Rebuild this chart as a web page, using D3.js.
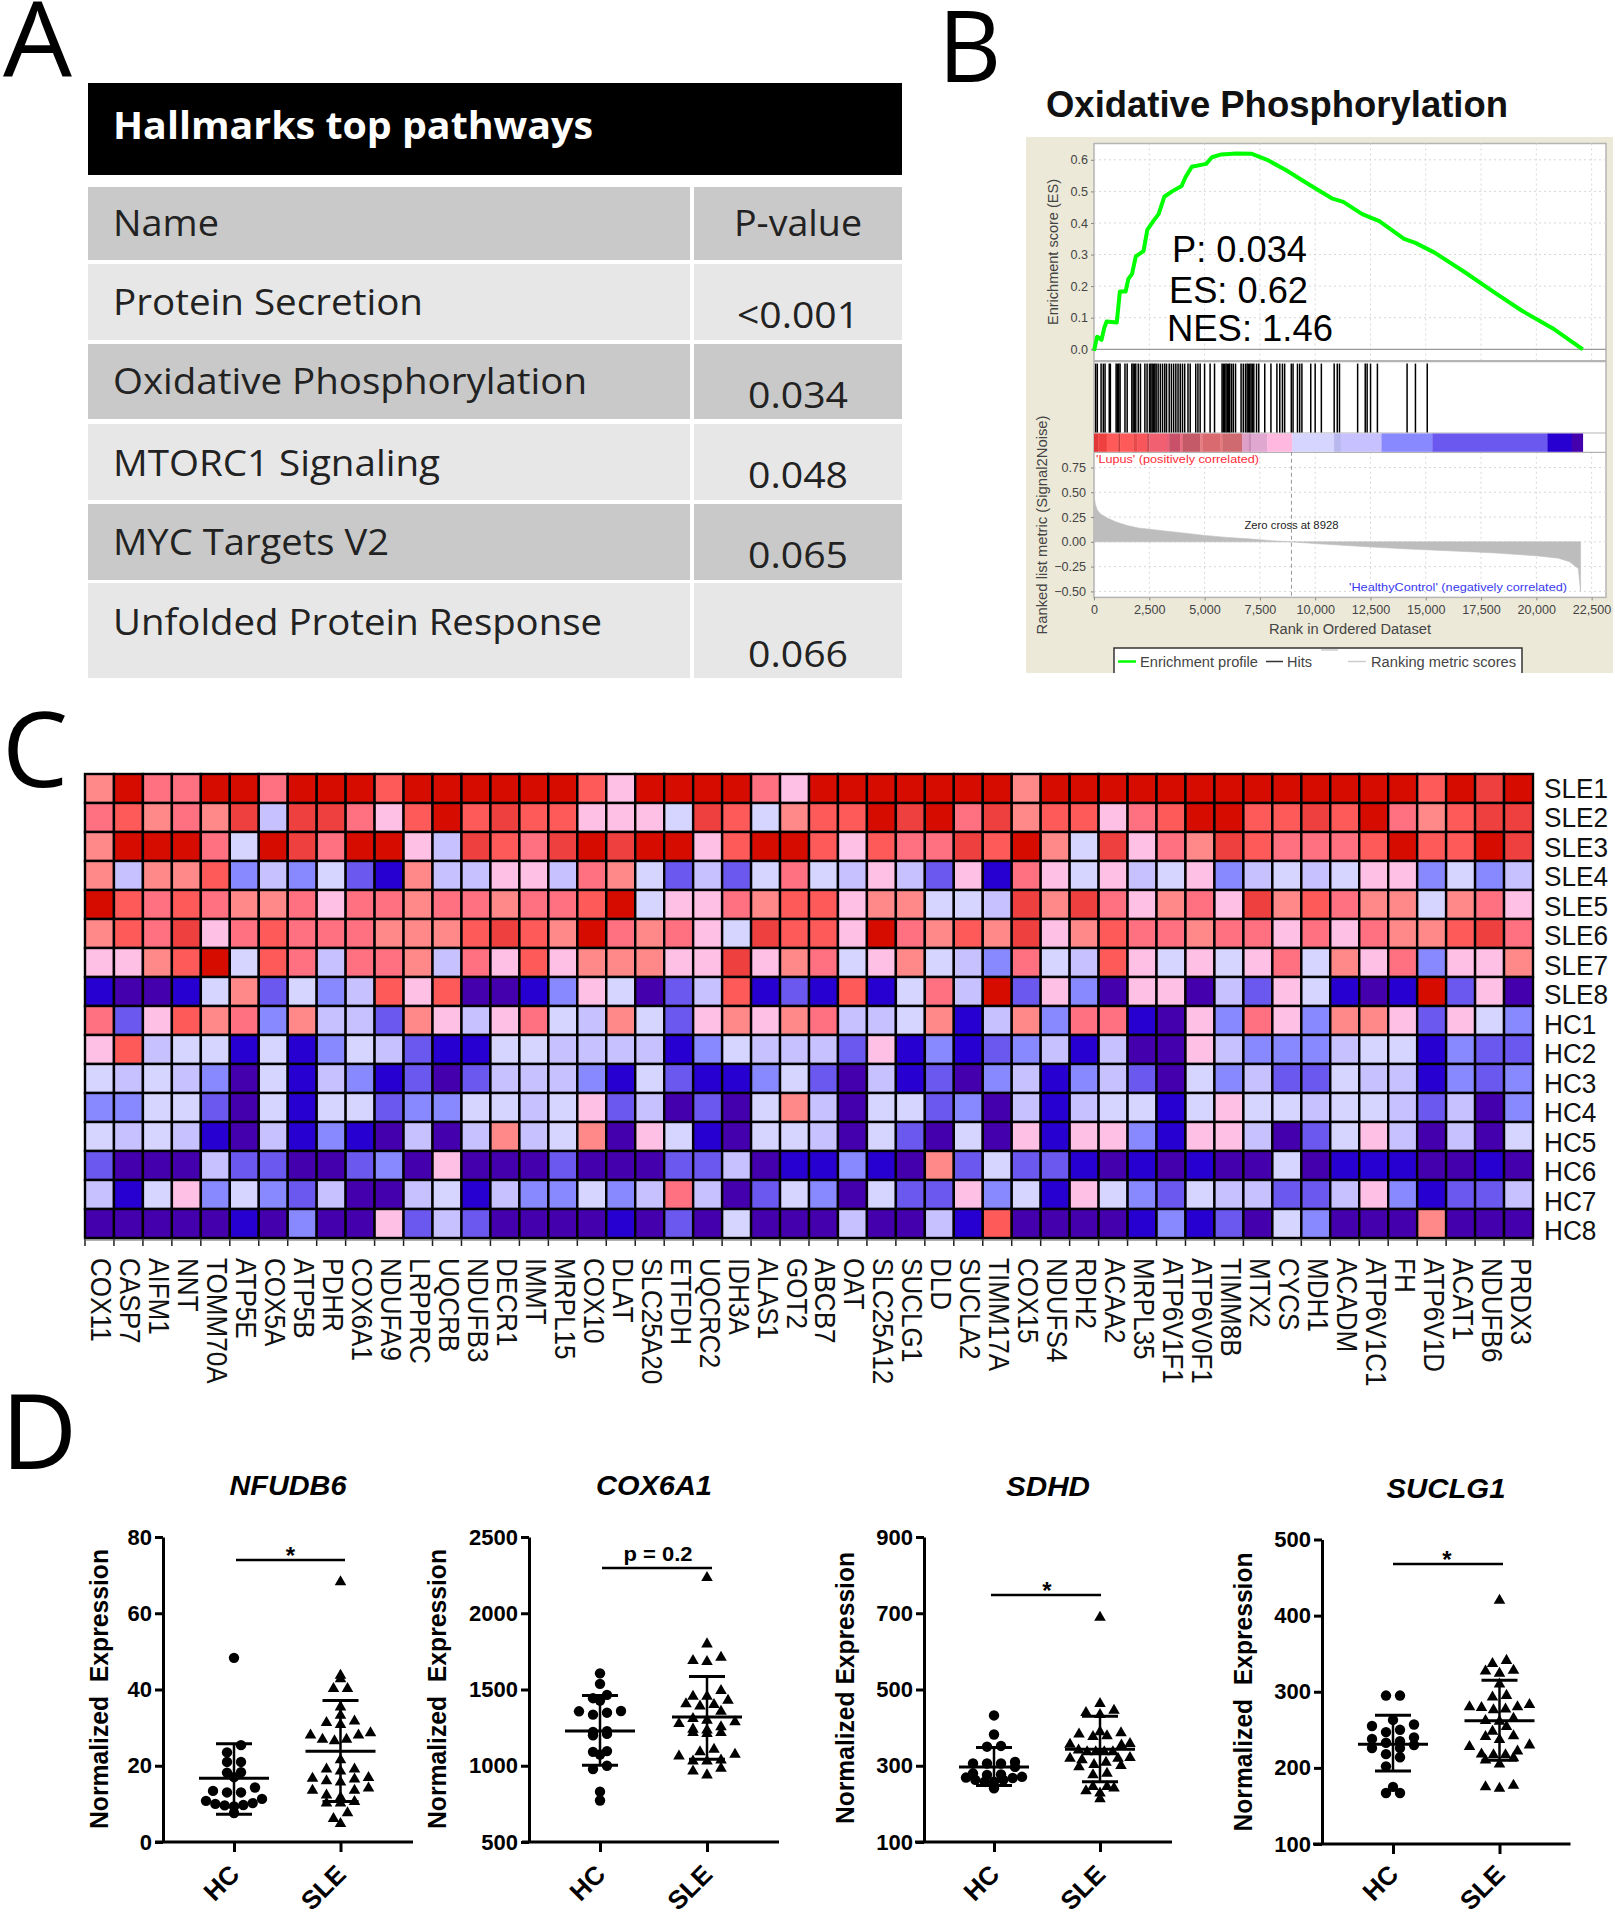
<!DOCTYPE html>
<html>
<head>
<meta charset="utf-8">
<style>
  html, body { margin: 0; padding: 0; background: #fff; }
  svg { display: block; }
  text { font-family: "Liberation Sans", Arial, sans-serif; fill: #000; }
</style>
<script src="https://cdn.jsdelivr.net/npm/d3@7"></script>
</head>
<body>
<svg id="fig" width="1615" height="1920"></svg>
<script>
// panel A
var tableTitle = 'Hallmarks top pathways';
var pathwayNames = ['Protein Secretion', 'Oxidative Phosphorylation', 'MTORC1 Signaling', 'MYC Targets V2', 'Unfolded Protein Response'];
var pathwayPvals = ['<0.001', '0.034', '0.048', '0.065', '0.066'];

// panel B
var esRank = [0, 140, 340, 460, 570, 1030, 1170, 1430, 1550, 1720, 1890, 2240, 2410, 2670, 2920, 3180, 3530, 3960, 4130, 4420, 5070, 5330, 5760, 6450, 7140, 7830, 8690, 9720, 10750, 11270, 12130, 12900, 14020, 14530, 15400, 16770, 18150, 19350, 20730, 22100];
var esScore = [-0.005, 0.04, 0.03, 0.067, 0.088, 0.085, 0.183, 0.183, 0.222, 0.239, 0.294, 0.311, 0.378, 0.405, 0.428, 0.483, 0.5, 0.517, 0.544, 0.578, 0.587, 0.608, 0.617, 0.62, 0.619, 0.6, 0.567, 0.522, 0.478, 0.467, 0.428, 0.406, 0.35, 0.337, 0.306, 0.244, 0.178, 0.122, 0.067, 0];
var hitRanks = [75, 150, 320, 420, 500, 690, 740, 1000, 1060, 1120, 1180, 1400, 1500, 1710, 1770, 1830, 1890, 2000, 2100, 2300, 2400, 2510, 2570, 2630, 2690, 2750, 2810, 2900, 3000, 3100, 3200, 3280, 3400, 3500, 3600, 3700, 3800, 3900, 4000, 4100, 4250, 4350, 4600, 4700, 4800, 5000, 5250, 5450, 5790, 5850, 5910, 5970, 6030, 6090, 6138, 6220, 6300, 6400, 6650, 6750, 6850, 6924, 6980, 7040, 7100, 7160, 7226, 7350, 7450, 7720, 8000, 8270, 8400, 8520, 8620, 8920, 9000, 9200, 9300, 9400, 9800, 10000, 10280, 10860, 11000, 11100, 11920, 12264, 12350, 12504, 12814, 14156, 14534, 15067];
var barStarts = [0, 196, 574, 1104, 1180, 1784, 1950, 2400, 2500, 3296, 3400, 3900, 4000, 4807, 4900, 5700, 5800, 6697, 7000, 7100, 7831, 8966, 10855, 11157, 13000, 15300, 20500, 21600, 22100];
var barColors = ['#e23636', '#ef4040', '#ff5a5a', '#c93a3a', '#ff5a5a', '#e84a4a', '#f8565a', '#c94a50', '#f06070', '#ea6078', '#c85068', '#ec6a7c', '#c45a68', '#e97a7e', '#d86a70', '#e47a7c', '#cf6a70', '#dfa0c8', '#c890b8', '#e0a8d0', '#ffb8e0', '#d5d5ff', '#b8b8ee', '#c7c1ff', '#8888ff', '#6b58ef', '#2700d1', '#4500ad'];
var metricRank = [0, 60, 150, 300, 600, 1000, 1500, 2000, 3000, 4000, 5000, 6000, 7000, 8000, 8928, 10000, 12000, 14000, 16000, 18000, 20000, 21000, 21500, 21900, 22000, 22001];
var metricValue = [0.47, 0.38, 0.32, 0.28, 0.24, 0.2, 0.165, 0.14, 0.115, 0.09, 0.065, 0.045, 0.03, 0.012, 0, -0.018, -0.045, -0.07, -0.09, -0.11, -0.14, -0.165, -0.2, -0.27, -0.5, 0];
var rankTicks = [0, 2500, 5000, 7500, 10000, 12500, 15000, 17500, 20000, 22500];
var esTicks = [0, 0.1, 0.2, 0.3, 0.4, 0.5, 0.6];
var metricTicks = [-0.5, -0.25, 0, 0.25, 0.5, 0.75];
var gseaStats = ['P: 0.034', 'ES: 0.62', 'NES: 1.46'];

// panel C, each letter is one colour level of heatLevels
var heatLevels = 'PBMKLWISROED'.split('');
var heatColors = ['#4500ad', '#2700d1', '#6b58ef', '#8888ff', '#c7c1ff', '#d5d5ff', '#ffc0e5', '#ff8989', '#ff7080', '#ff5a5a', '#ef4040', '#d60c00'];
var heatGenes = ['COX11', 'CASP7', 'AIFM1', 'NNT', 'TOMM70A', 'ATP5E', 'COX5A', 'ATP5B', 'PDHR', 'COX6A1', 'NDUFA9', 'LRPPRC', 'UQCRB', 'NDUFB3', 'DECR1', 'IMMT', 'MRPL15', 'COX10', 'DLAT', 'SLC25A20', 'ETFDH', 'UQCRC2', 'IDH3A', 'ALAS1', 'GOT2', 'ABCB7', 'OAT', 'SLC25A12', 'SUCLG1', 'DLD', 'SUCLA2', 'TIMM17A', 'COX15', 'NDUFS4', 'RDH2', 'ACAA2', 'MRPL35', 'ATP6V1F1', 'ATP6V0F1', 'TIMM8B', 'MTX2', 'CYCS', 'MDH1', 'ACADM', 'ATP6V1C1', 'FH', 'ATP6V1D', 'ACAT1', 'NDUFB6', 'PRDX3'];
var heatSamples = ['SLE1', 'SLE2', 'SLE3', 'SLE4', 'SLE5', 'SLE6', 'SLE7', 'SLE8', 'HC1', 'HC2', 'HC3', 'HC4', 'HC5', 'HC6', 'HC7', 'HC8'];
var heatRows = [
  'SDRRDDRDDDODDDDDDOIDDDDRID' + 'DDDDDDSDDDDDDDDDDDDDODED',
  'ROSRSELEERIODOEOOIIIWEOWSO' + 'ODEDRESOOIRODDOOEODRSOEE',
  'SDDDRWDERDDILEOREDEDDIODDO' + 'IORREODSWEIRSEORRRODOODE',
  'SLSSOKLKWMBSLLIILRSWMLMWRW' + 'LILMIBRIWILWIKLWLWIIKWKL',
  'DORORSSRIRRSRRSRRODWIIRSOO' + 'ISSWWLESERISRIESORSSWSRI',
  'SOREIRORRRSSSOEOSDRSRIWEOO' + 'IDRSOSEISORRSRRIRIRSSOER',
  'IISODWORLRRSLRIOISSSIIEISR' + 'WISWLKRWLOIWIWIRWSIRKIIS',
  'BPPBWSMWKLOIOPPBKIWPMLOBMB' + 'OBWRLDMIKPIIPLMIWBPBDMIP',
  'RMIOSRKSLLMSILIRWLSWMISISR' + 'LLWSBLSKRRBPIKRIKSSIMIWK',
  'IOLWWBWBKWLMBBWWLLLLBKWLLL' + 'MIBKBMKLBLPPILKKKLWWBKMM',
  'WLWLKPWBLKBMPMLLLKBWMBBKWM' + 'PLBMPKLBKLMPWKLMMWLLBKMK',
  'KKWWMPWBWWMKKWWLWIMLPMPWSL' + 'PWWMKPLBLWWBWIWWLWWLMLPK',
  'WLWLBPLBKBPLPLSLWSPIWBPWWL' + 'PWMPWPIBIIKBIILPMWILPLPW',
  'MPPPLMMPPMKPIPPPMPPPMMLPBB' + 'KBPSMWMMBPBPBPPWPBBBPPBP',
  'LBWIKWKMLPPLWBLKKWKLRLPMWK' + 'PWMMIKWBIWKMWLLMMLIKBMML',
  'PPPPPBPKPPIMLMPPPPBPMPWPPP' + 'LPPLBOPPPPBKBMPWKPPPSPPP'
];

// panel D, expression per subject and the mean / SD marks
var groups = ['HC', 'SLE'];
var nfudb6Hc = [48.3, 25.4, 23.5, 21, 21, 18.3, 18.2, 17, 14.3, 13.4, 13, 13, 11.3, 10.8, 10.2, 10, 9.7, 9.6, 9.3, 7.6];
var nfudb6Sle = [68.2, 43.7, 42.8, 40.2, 40.2, 35.4, 33.2, 31.7, 31.3, 30.8, 28.6, 28, 28, 26.9, 26.9, 26.5, 21.5, 19.1, 19.1, 18.6, 16.9, 16.7, 16.5, 16, 15.7, 14.1, 13.5, 13.5, 12.3, 11.7, 10.6, 10.2, 10.2, 7.6, 6.1, 4.8];
var nfudb6Stats = [[16.7, 25.8, 7.3], [23.8, 37.1, 10.6]];
var cox6a1Hc = [1606, 1537, 1465, 1443, 1428, 1359, 1357, 1348, 1335, 1226, 1222, 1209, 1200, 1096, 1091, 1074, 1000, 978, 830, 772];
var cox6a1Sle = [2233, 1798, 1711, 1689, 1683, 1493, 1454, 1454, 1428, 1406, 1400, 1391, 1357, 1309, 1298, 1287, 1276, 1254, 1239, 1233, 1217, 1217, 1211, 1107, 1091, 1074, 1063, 1037, 1030, 1030, 983, 965, 939];
var cox6a1Stats = [[1228, 1461, 1004], [1320, 1585, 1043]];
var sdhdHc = [432, 382, 352, 350, 310, 306, 306, 306, 297, 280, 277, 276, 271, 269, 268, 263, 263, 258, 258, 241];
var sdhdSle = [689, 463, 445, 439, 434, 389, 386, 383, 378, 376, 358, 356, 354, 341, 336, 336, 336, 336, 321, 319, 319, 315, 309, 303, 300, 297, 280, 276, 245, 245, 241, 234, 228, 213];
var sdhdStats = [[297, 348, 248], [343, 430, 258]];
var suclg1Hc = [295, 295, 263, 257, 255, 250, 247, 240, 238, 235, 233, 230, 226, 226, 218, 214, 202, 175, 167, 167];
var suclg1Sle = [420, 341, 337, 328, 327, 324, 310, 295, 293, 283, 280, 280, 279, 277, 276, 265, 262, 261, 254, 248, 242, 241, 237, 230, 228, 222, 218, 217, 217, 213, 210, 205, 177, 175, 173];
var suclg1Stats = [[231, 269, 196], [262, 315, 210]];

var svg = d3.select('#fig');

// fit a text to the width measured on the picture
function label(g, str, x, y, o){
  o = o || {};
  var t = g.append('text').attr('x', x).attr('y', y).text(str)
    .attr('font-size', o.size || 14)
    .attr('text-anchor', o.anchor || 'start');
  if (o.family) t.style('font-family', o.family);
  if (o.weight) t.attr('font-weight', o.weight);
  if (o.italic) t.attr('font-style', 'italic');
  if (o.fill) t.style('fill', o.fill);
  if (o.squeeze) o.len = t.node().getComputedTextLength() * o.squeeze;
  if (o.len) t.attr('textLength', o.len).attr('lengthAdjust', 'spacingAndGlyphs');
  if (o.rotate) t.attr('transform', 'rotate(' + o.rotate + ' ' + x + ' ' + y + ')');
  return t;
}

var panelFont = '"Open Sans", sans-serif';
label(svg, 'A', 3, 77, {size: 105, family: panelFont, len: 69});
label(svg, 'B', 938, 82, {size: 98, family: panelFont});
label(svg, 'C', 2, 787, {size: 105, family: panelFont});
label(svg, 'D', 1, 1469, {size: 105, family: panelFont});

drawTable();
drawGsea();
drawHeatmap();
drawScatter(svg.append('g'), {title: 'NFUDB6', titleX: 288, titleLen: 117, titleY: 1495, hc: nfudb6Hc, sle: nfudb6Sle, stats: nfudb6Stats,
  domain: [0, 80], ticks: [0, 20, 40, 60, 80], yTop: 1537, yBot: 1842, axisX: 163, x0: 155, x1: 413, hcX: 234, sleX: 340.5,
  yLabel: 'Normalized\u00a0\u00a0Expression', labelX: 98, labelY: 1689, labelLen: 280, sigLeft: 236, sigRight: 345, sigY: 1560, sig: '*', sigX: 290.5});
drawScatter(svg.append('g'), {title: 'COX6A1', titleX: 654, titleLen: 116, titleY: 1495, hc: cox6a1Hc, sle: cox6a1Sle, stats: cox6a1Stats,
  domain: [500, 2500], ticks: [500, 1000, 1500, 2000, 2500], yTop: 1537, yBot: 1842, axisX: 529, x0: 522, x1: 779, hcX: 600, sleX: 707,
  yLabel: 'Normalized\u00a0\u00a0Expression', labelX: 436, labelY: 1689, labelLen: 280, sigLeft: 602, sigRight: 712, sigY: 1568, sig: 'p = 0.2', sigX: 658});
drawScatter(svg.append('g'), {title: 'SDHD', titleX: 1048, titleLen: 84, titleY: 1496, hc: sdhdHc, sle: sdhdSle, stats: sdhdStats,
  domain: [100, 900], ticks: [100, 300, 500, 700, 900], yTop: 1537, yBot: 1842, axisX: 924, x0: 915, x1: 1172, hcX: 994, sleX: 1100,
  yLabel: 'Normalized Expression', labelX: 844, labelY: 1688, labelLen: 272, sigLeft: 991, sigRight: 1101, sigY: 1595, sig: '*', sigX: 1047});
drawScatter(svg.append('g'), {title: 'SUCLG1', titleX: 1446, titleLen: 119, titleY: 1498, hc: suclg1Hc, sle: suclg1Sle, stats: suclg1Stats,
  domain: [100, 500], ticks: [100, 200, 300, 400, 500], yTop: 1539.5, yBot: 1844, axisX: 1322, x0: 1313, x1: 1570.5, hcX: 1393, sleX: 1499.5,
  yLabel: 'Normalized\u00a0\u00a0Expression', labelX: 1242, labelY: 1692, labelLen: 279, sigLeft: 1393, sigRight: 1503, sigY: 1564, sig: '*', sigX: 1447});

function drawTable(){
  var g = svg.append('g');
  var bodyFont = '"Open Sans", sans-serif';
  var left = 88, split = 690, splitEnd = 694, right = 902;
  var rowTops = [264, 344, 424, 504, 583];
  var rowBots = [340, 419, 500, 580, 678];
  var nameBase = [315, 394, 476, 555, 635];
  var valBase = [328, 408, 488, 568, 667];
  var nameLen = [310, 474, 327, 276, 489];
  var valLen = [122, 100, 100, 100, 100];

  g.append('rect').attr('x', left).attr('y', 83).attr('width', right - left).attr('height', 92).attr('fill', '#000');
  label(g, tableTitle, 113, 139, {size: 38, weight: 'bold', family: bodyFont, fill: '#fff', len: 480});

  g.append('rect').attr('x', left).attr('y', 187).attr('width', split - left).attr('height', 73).attr('fill', '#c9c9c9');
  g.append('rect').attr('x', splitEnd).attr('y', 187).attr('width', right - splitEnd).attr('height', 73).attr('fill', '#c9c9c9');
  label(g, 'Name', 113, 236, {size: 36, family: bodyFont, fill: '#222', len: 106});
  label(g, 'P-value', 798, 236, {size: 36, family: bodyFont, fill: '#222', anchor: 'middle', len: 128});

  pathwayNames.forEach(function(name, i){
    var fill = i % 2 ? '#c9c9c9' : '#e7e7e7';
    g.append('rect').attr('x', left).attr('y', rowTops[i]).attr('width', split - left).attr('height', rowBots[i] - rowTops[i]).attr('fill', fill);
    g.append('rect').attr('x', splitEnd).attr('y', rowTops[i]).attr('width', right - splitEnd).attr('height', rowBots[i] - rowTops[i]).attr('fill', fill);
    label(g, name, 113, nameBase[i], {size: 36, family: bodyFont, fill: '#222', len: nameLen[i]});
    label(g, pathwayPvals[i], 798, valBase[i], {size: 36, family: bodyFont, fill: '#222', anchor: 'middle', len: valLen[i]});
  });
}

function drawGsea(){
  var g = svg.append('g');
  var grey = '#444', gridCol = '#d8d8d8';
  var boxL = 1094, boxR = 1606, boxT = 143.5, esBot = 360.5, hitT = 362.6, barT = 433.5, barB = 451.8, boxB = 597.4;

  label(g, 'Oxidative Phosphorylation', 1046, 117, {size: 37, weight: 'bold', len: 462, fill: '#111'});
  g.append('rect').attr('x', 1026).attr('y', 137).attr('width', 587).attr('height', 536).attr('fill', '#ece9d8');
  g.append('rect').attr('x', boxL).attr('y', boxT).attr('width', boxR - boxL).attr('height', boxB - boxT).attr('fill', '#fff').attr('stroke', '#b4b4b4').attr('stroke-width', 1.5);

  var x = d3.scaleLinear().domain([0, 23150]).range([boxL, boxR]);
  var yEs = d3.scaleLinear().domain([0, 0.6]).range([349.3, 159.8]);
  var yMetric = d3.scaleLinear().domain([-0.5, 0.75]).range([591.4, 467.5]);

  // dashed grid
  var grid = g.append('g').attr('stroke', gridCol).attr('stroke-dasharray', '2 3');
  rankTicks.slice(1).forEach(function(r){
    grid.append('line').attr('x1', x(r)).attr('x2', x(r)).attr('y1', boxT).attr('y2', esBot);
    grid.append('line').attr('x1', x(r)).attr('x2', x(r)).attr('y1', barB).attr('y2', boxB);
  });
  esTicks.slice(1).forEach(function(v){
    grid.append('line').attr('x1', boxL).attr('x2', boxR).attr('y1', yEs(v)).attr('y2', yEs(v));
  });
  metricTicks.forEach(function(v){
    grid.append('line').attr('x1', boxL).attr('x2', boxR).attr('y1', yMetric(v)).attr('y2', yMetric(v));
  });

  // panel dividers
  [esBot, hitT - 1, barT - 0.5, barB + 0.5].forEach(function(v){
    g.append('line').attr('x1', boxL).attr('x2', boxR).attr('y1', v).attr('y2', v).attr('stroke', '#b4b4b4').attr('stroke-width', 1.2);
  });
  g.append('line').attr('x1', boxL).attr('x2', boxR).attr('y1', yEs(0)).attr('y2', yEs(0)).attr('stroke', '#999').attr('stroke-width', 1.2);

  // ranked metric area
  var area = d3.area().x(function(d){ return x(d[0]); }).y0(yMetric(0)).y1(function(d){ return yMetric(d[1]); });
  g.append('path').datum(d3.zip(metricRank, metricValue)).attr('d', area).attr('fill', '#bdbdbd').attr('stroke', '#bdbdbd').attr('stroke-width', 0.6);

  // zero cross
  g.append('line').attr('x1', x(8928)).attr('x2', x(8928)).attr('y1', barB).attr('y2', boxB).attr('stroke', '#999').attr('stroke-dasharray', '4 3');
  label(g, 'Zero cross at 8928', x(8928), 528.5, {size: 11, anchor: 'middle', fill: '#222', len: 94});

  // colour bar
  g.selectAll('rect.band').data(barColors).enter().append('rect').attr('class', 'band')
    .attr('x', function(d, i){ return x(barStarts[i]); })
    .attr('width', function(d, i){ return x(barStarts[i + 1]) - x(barStarts[i]) + 0.3; })
    .attr('y', barT).attr('height', barB - barT)
    .attr('fill', function(d){ return d; });

  // hits
  g.selectAll('line.hit').data(hitRanks).enter().append('line').attr('class', 'hit')
    .attr('x1', function(d){ return x(d); }).attr('x2', function(d){ return x(d); })
    .attr('y1', hitT + 1).attr('y2', barT - 1).attr('stroke', '#000').attr('stroke-width', 1.5);

  // enrichment profile
  var line = d3.line().x(function(d){ return x(d[0]); }).y(function(d){ return yEs(d[1]); });
  g.append('path').datum(d3.zip(esRank, esScore)).attr('d', line).attr('fill', 'none').attr('stroke', '#00ff00').attr('stroke-width', 4).attr('stroke-linejoin', 'round');

  // axes
  var ax = g.append('g').attr('transform', 'translate(0,' + boxB + ')')
    .call(d3.axisBottom(x).tickValues(rankTicks).tickFormat(d3.format(',')).tickSize(3).tickPadding(5));
  ax.select('.domain').remove();
  var ay1 = g.append('g').attr('transform', 'translate(' + boxL + ',0)')
    .call(d3.axisLeft(yEs).tickValues(esTicks).tickFormat(d3.format('.1f')).tickSize(3).tickPadding(3));
  ay1.select('.domain').remove();
  var ay2 = g.append('g').attr('transform', 'translate(' + boxL + ',0)')
    .call(d3.axisLeft(yMetric).tickValues(metricTicks).tickFormat(d3.format('.2f')).tickSize(3).tickPadding(5));
  ay2.select('.domain').remove();
  [ax, ay1, ay2].forEach(function(a){
    a.selectAll('text').attr('font-size', 12.6).style('fill', grey).style('font-family', '"Liberation Sans", Arial, sans-serif');
    a.selectAll('line').attr('stroke', '#888');
  });

  label(g, 'Enrichment score (ES)', 1058, 252, {size: 14, anchor: 'middle', fill: grey, len: 146, rotate: -90});
  label(g, 'Ranked list metric (Signal2Noise)', 1047, 525, {size: 14, anchor: 'middle', fill: grey, len: 219, rotate: -90});
  label(g, 'Rank in Ordered Dataset', 1350, 633.5, {size: 14, anchor: 'middle', fill: grey, len: 162});
  label(g, "'Lupus' (positively correlated)", 1096, 462.5, {size: 11.5, fill: '#ff2a3a', len: 163});
  label(g, "'HealthyControl' (negatively correlated)", 1349, 590.5, {size: 11.5, fill: '#3a3af0', len: 218});

  var statX = [1172, 1169, 1167], statY = [261.6, 302.6, 340.5], statLen = [135, 139, 166];
  gseaStats.forEach(function(s, i){
    label(g, s, statX[i], statY[i], {size: 36, fill: '#000', len: statLen[i]});
  });

  // legend
  g.append('path').attr('d', 'M1114,673V648H1522V673').attr('fill', '#fff').attr('stroke', '#333').attr('stroke-width', 1.5);
  var legY = 661.5;
  g.append('line').attr('x1', 1118).attr('x2', 1136).attr('y1', legY).attr('y2', legY).attr('stroke', '#00ff00').attr('stroke-width', 2.5);
  label(g, 'Enrichment profile', 1140, legY + 5, {size: 14, fill: grey, len: 118});
  g.append('line').attr('x1', 1266).attr('x2', 1283).attr('y1', legY).attr('y2', legY).attr('stroke', '#333').attr('stroke-width', 1.5);
  label(g, 'Hits', 1287, legY + 5, {size: 14, fill: grey, len: 25});
  g.append('line').attr('x1', 1321).attr('x2', 1338).attr('y1', 650).attr('y2', 650).attr('stroke', '#ccc').attr('stroke-width', 1.5);
  g.append('line').attr('x1', 1348).attr('x2', 1366).attr('y1', legY).attr('y2', legY).attr('stroke', '#ccc').attr('stroke-width', 1.5);
  label(g, 'Ranking metric scores', 1371, legY + 5, {size: 14, fill: grey, len: 145});
}

function drawHeatmap(){
  var g = svg.append('g');
  var left = 85, right = 1533, top = 774, bottom = 1238;
  var x = d3.scaleBand().domain(heatGenes).range([left, right]);
  var y = d3.scaleBand().domain(heatSamples).range([top, bottom]);
  var color = d3.scaleOrdinal(heatLevels, heatColors);

  heatRows.forEach(function(row, r){
    g.append('g').selectAll('rect').data(row.split('')).enter().append('rect')
      .attr('x', function(d, c){ return x(heatGenes[c]); })
      .attr('y', y(heatSamples[r]))
      .attr('width', x.bandwidth())
      .attr('height', y.bandwidth())
      .attr('fill', function(d){ return color(d); })
      .attr('stroke', '#000')
      .attr('stroke-width', 2.4);
  });

  // ticks on the cell edges below the grid
  var edges = heatGenes.map(function(d){ return x(d); }).concat([right]);
  g.selectAll('line.edge').data(edges).enter().append('line').attr('class', 'edge')
    .attr('x1', function(d){ return d; }).attr('x2', function(d){ return d; })
    .attr('y1', bottom).attr('y2', bottom + 8).attr('stroke', '#222').attr('stroke-width', 1.5);
  g.append('line').attr('x1', left).attr('x2', right).attr('y1', bottom + 2).attr('y2', bottom + 2).attr('stroke', '#666').attr('stroke-width', 1);

  heatGenes.forEach(function(name){
    var cx = x(name) + x.bandwidth() / 2 - 8;
    label(g, name, cx, 1258, {size: 29, fill: '#111', rotate: 90, squeeze: 0.9});
  });

  var rowY = d3.scalePoint().domain(heatSamples).range([798, 1240]);
  heatSamples.forEach(function(name){
    label(g, name, 1544, rowY(name), {size: 27, fill: '#111', squeeze: 0.97});
  });
}

// Prism like column scatter: points of one height bin are spread around the centre
function spread(values, y, pitch, step, maxWidth){
  var d0 = y.domain()[0], d1 = y.domain()[1];
  var pitchValue = (d1 - d0) * pitch / Math.abs(y.range()[0] - y.range()[1]);
  var bins = d3.bin().domain([d0, d1]).thresholds(d3.range(d0, d1, pitchValue))(values);
  var out = [];
  bins.forEach(function(bin){
    var n = bin.length;
    var s = n > 1 ? Math.min(step, maxWidth / (n - 1)) : step;
    bin.slice().sort(d3.ascending).forEach(function(v, i){
      var slot = (n % 2) ? (i === 0 ? 0 : Math.ceil(i / 2) * (i % 2 ? -1 : 1))
                         : (Math.floor(i / 2) + 0.5) * (i % 2 ? 1 : -1);
      out.push({v: v, dx: slot * s});
    });
  });
  return out;
}

function drawScatter(g, o){
  var y = d3.scaleLinear().domain(o.domain).range([o.yBot, o.yTop]);
  var x = d3.scalePoint().domain(groups).range([o.hcX, o.sleX]);
  var thick = 3;

  var ay = g.append('g').attr('transform', 'translate(' + o.axisX + ',0)')
    .call(d3.axisLeft(y).tickValues(o.ticks).tickFormat(d3.format('d')).tickSize(8).tickSizeOuter(0).tickPadding(3));
  ay.selectAll('path,line').attr('stroke', '#000').attr('stroke-width', thick);
  ay.selectAll('text').attr('font-size', 22).attr('font-weight', 'bold').style('fill', '#000').style('font-family', '"Liberation Sans", Arial, sans-serif');

  var ax = g.append('g').attr('transform', 'translate(0,' + o.yBot + ')')
    .call(d3.axisBottom(x).tickSize(10).tickSizeOuter(0).tickFormat(''));
  ax.select('.domain').remove();
  ax.selectAll('line').attr('stroke', '#000').attr('stroke-width', thick);
  g.append('line').attr('x1', o.x0).attr('x2', o.x1).attr('y1', o.yBot).attr('y2', o.yBot).attr('stroke', '#000').attr('stroke-width', thick);

  groups.forEach(function(name){
    label(g, name, x(name) + 7, Math.min(o.yBot, 1842) + 34, {size: 26, weight: 'bold', anchor: 'end', rotate: -45});
  });

  label(g, o.title, o.titleX, o.titleY, {size: 27, weight: 'bold', italic: true, anchor: 'middle', len: o.titleLen});
  label(g, o.yLabel, o.labelX + 10, o.labelY, {size: 26, weight: 'bold', anchor: 'middle', len: o.labelLen, rotate: -90});

  // significance
  g.append('line').attr('x1', o.sigLeft).attr('x2', o.sigRight).attr('y1', o.sigY).attr('y2', o.sigY).attr('stroke', '#000').attr('stroke-width', 2.5);
  if (o.sig === '*') {
    label(g, o.sig, o.sigX, o.sigY + 4, {size: 24, weight: 'bold', anchor: 'middle'});
  } else {
    label(g, o.sig, o.sigX, o.sigY - 7, {size: 21, weight: 'bold', anchor: 'middle', len: 69});
  }

  // points
  var tri = d3.symbol().type(d3.symbolTriangle).size(58)();
  spread(o.hc, y, 11, 14, 56).forEach(function(p){
    g.append('circle').attr('cx', x('HC') + p.dx).attr('cy', y(p.v)).attr('r', 5.2).attr('fill', '#000');
  });
  spread(o.sle, y, 11, 14, 60).forEach(function(p){
    g.append('path').attr('d', tri).attr('transform', 'translate(' + (x('SLE') + p.dx) + ',' + y(p.v) + ')').attr('fill', '#000');
  });

  // mean and SD bars
  groups.forEach(function(name, i){
    var s = o.stats[i], cx = x(name);
    g.append('line').attr('x1', cx).attr('x2', cx).attr('y1', y(s[1])).attr('y2', y(s[2])).attr('stroke', '#000').attr('stroke-width', 2.5);
    g.append('line').attr('x1', cx - 35).attr('x2', cx + 35).attr('y1', y(s[0])).attr('y2', y(s[0])).attr('stroke', '#000').attr('stroke-width', 3);
    [s[1], s[2]].forEach(function(v){
      g.append('line').attr('x1', cx - 18).attr('x2', cx + 18).attr('y1', y(v)).attr('y2', y(v)).attr('stroke', '#000').attr('stroke-width', 3);
    });
  });
}
</script>
</body>
</html>
